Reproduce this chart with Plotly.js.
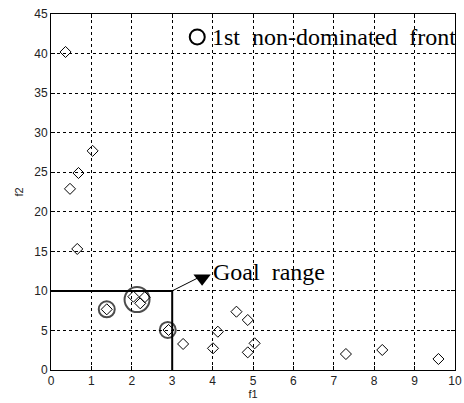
<!DOCTYPE html>
<html><head><meta charset="utf-8">
<script src="https://cdn.plot.ly/plotly-3.0.1.min.js"></script>
<style>body{margin:0;background:#fff}#c{width:464px;height:403px}</style>
</head><body><div id="c"></div>
<script>
// All solutions (diamonds)
const f1All = [0.36, 1.03, 0.68, 0.47, 0.65, 1.38, 2.04, 2.21, 2.32, 2.91, 3.27, 4.01, 4.13, 4.59, 4.87, 4.87, 5.04, 7.30, 8.20, 9.59];
const f2All = [40.2, 27.7, 24.9, 22.9, 15.3, 7.67, 9.27, 8.43, 9.20, 5.06, 3.29, 2.74, 4.84, 7.37, 6.32, 2.23, 3.37, 2.02, 2.53, 1.39];
// 1st non-dominated front (circles)
const f1Front = [1.38, 2.13, 2.89];
const f2Front = [7.67, 8.9, 5.06];
// Goal range boundary
const goalF1 = [0, 3, 3];
const goalF2 = [10, 10, 0];
const xTicks = [0,1,2,3,4,5,6,7,8,9,10];
const yTicks = [0,5,10,15,20,25,30,35,40,45];

const traces = [
  {x: goalF1, y: goalF2, mode: 'lines', line: {color: '#000', width: 2}, hoverinfo: 'skip'},
  {x: [3, 3.66], y: [10, 11.7], mode: 'lines', line: {color: '#000', width: 1}, hoverinfo: 'skip'},
  {x: [3.74], y: [11.6], mode: 'markers', marker: {symbol: 'triangle-down', size: 15, color: '#000'}, hoverinfo: 'skip'},
  {x: f1All, y: f2All, mode: 'markers',
   marker: {symbol: 'diamond-open', size: 8.5, color: '#000', line: {width: 1, color: '#000'}}},
  {x: f1Front, y: f2Front, mode: 'markers',
   marker: {symbol: 'circle-open', size: [16, 25, 16], color: '#000', line: {width: 2, color: '#000'}}},
  {x: [3.62], y: [42.1], mode: 'markers',
   marker: {symbol: 'circle-open', size: 15, color: '#000', line: {width: 2, color: '#000'}}, hoverinfo: 'skip'}
];

const axisCommon = {
  showgrid: true, gridcolor: '#000', griddash: '3px,3px', gridwidth: 1,
  showline: true, linecolor: '#000', linewidth: 1, mirror: 'ticks',
  ticks: 'inside', ticklen: 4, tickcolor: '#000',
  zeroline: false, tickfont: {family: 'Liberation Sans, Arial', size: 12, color: '#222'}
};

const layout = {
  width: 464, height: 403,
  margin: {l: 51, r: 9, t: 14, b: 33},
  showlegend: false,
  paper_bgcolor: '#fff', plot_bgcolor: '#fff',
  xaxis: Object.assign({}, axisCommon, {range: [0, 10], tickvals: xTicks, ticktext: xTicks.map(String),
    title: {text: 'f1', font: {family: 'Liberation Sans, Arial', size: 11, color: '#222'}, standoff: 2}}),
  yaxis: Object.assign({}, axisCommon, {range: [0, 45], tickvals: yTicks, ticktext: yTicks.map(String),
    title: {text: 'f2', font: {family: 'Liberation Sans, Arial', size: 11, color: '#222'}, standoff: 8}}),
  annotations: [
    {x: 3.94, y: 42.1, xref: 'x', yref: 'y', xanchor: 'left', yanchor: 'middle', showarrow: false,
     text: '1st  non-dominated  front', font: {family: 'Liberation Serif, Times New Roman', size: 24, color: '#000'}},
    {x: 3.97, y: 12.4, xref: 'x', yref: 'y', xanchor: 'left', yanchor: 'middle', showarrow: false,
     text: 'Goal  range', font: {family: 'Liberation Serif, Times New Roman', size: 24, color: '#000'}}
  ]
};
Plotly.newPlot('c', traces, layout, {displayModeBar: false, staticPlot: true});
</script></body></html>
